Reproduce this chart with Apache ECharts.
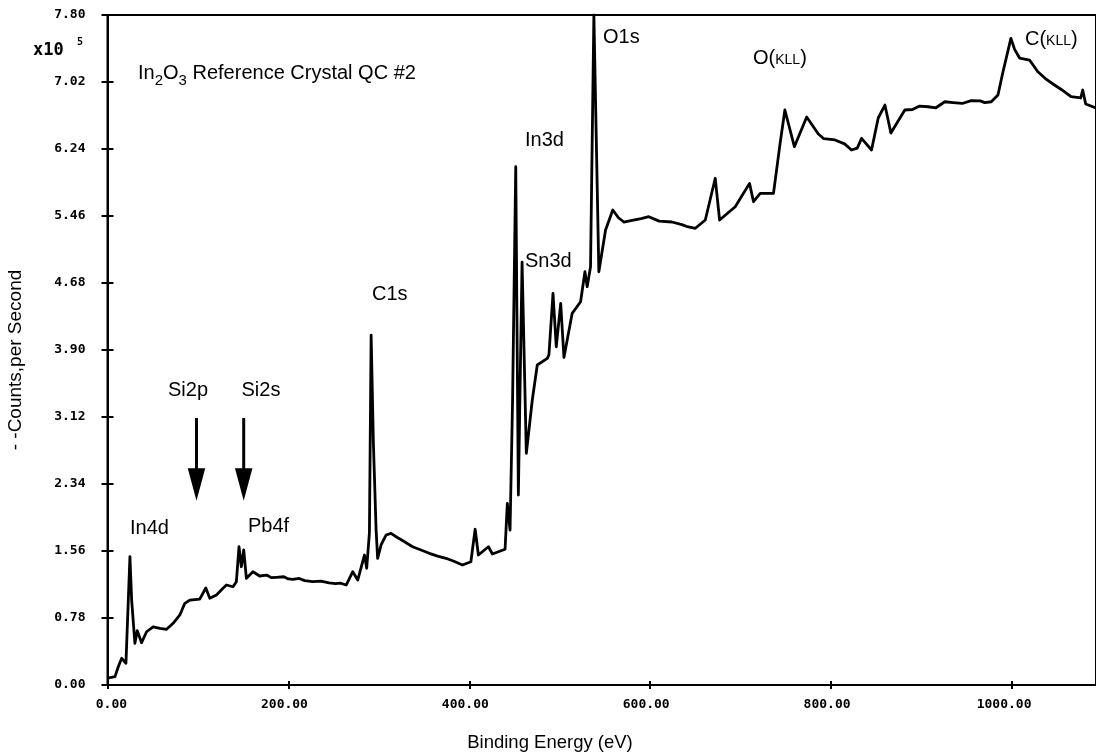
<!DOCTYPE html>
<html>
<head>
<meta charset="utf-8">
<script src="https://cdn.jsdelivr.net/npm/echarts@6/dist/echarts.min.js"></script>
<style>
html,body{margin:0;padding:0;background:#fff}
#chart{width:1096px;height:754px}
</style>
</head>
<body>
<div id="chart"></div>
<script>
// XPS survey spectrum, In2O3 reference crystal (counts in units of 1e5 per second)
const energies = [
  0, 0.9, 8.3, 11.9, 15.7, 17.4, 20.4, 21.8, 24.8, 26.7, 30.3, 32.9, 37.7, 43.2, 50.5, 58, 65.3, 72.6,
  80.0, 85.5, 91, 102.0, 108.7, 113.1, 120.5, 127.7, 131.5, 138.8, 142.5, 145.4, 148.0, 150.6, 153.6,
  160.8, 168.2, 176, 181, 186.7, 195, 200, 205.0, 212, 218, 227.0, 236, 245, 252, 258, 263.9, 271.2,
  276.7, 284.1, 286.6, 289.6, 291.5, 294.0, 297.0, 298.7, 302.5, 308, 313.5, 320, 328, 337.3, 346,
  355.8, 365, 374.2, 383, 392.5, 401.8, 406.5, 410.1, 421.2, 425.6, 439.6, 442.1,
  445.1, 447.9, 451.4, 454.3, 458.4, 463.1, 469.7, 475.2, 486.3, 488.1, 492.6, 496.2, 501.1, 504.7,
  513.8, 523.1, 527.9, 530.4, 534.1, 537.8, 543.3, 550.7, 558.7, 565, 570.9, 580, 590, 598.5, 610,
  624.2, 635, 640, 650.0, 661.0, 672.0, 676.8, 694.1, 709.9, 714.3, 721.7, 736.4, 743.7, 749.0,
  759.5, 773.1, 786.0, 792, 804.4, 815, 822.7, 829, 833.8, 844.8, 852.2, 859.6, 866.2, 881.6, 890,
  898, 907.3, 916, 925.8, 935, 945, 955.1, 965, 970, 977.2, 984.6, 990.1, 998.9, 1003, 1008.5,
  1019.5, 1028.7, 1037, 1047.1, 1055, 1065.4, 1076.1, 1078.3, 1081.6, 1093
];
const counts = [
  0.08, 0.078, 0.097, 0.213, 0.311, 0.329, 0.253, 0.26, 1.494, 0.989, 0.485, 0.632, 0.492, 0.62, 0.678, 0.66, 0.648, 0.718,
  0.815, 0.951, 0.989, 1.0, 1.129, 1.009, 1.048, 1.126, 1.164, 1.144, 1.203, 1.610, 1.377, 1.572, 1.242,
  1.319, 1.269, 1.28, 1.25, 1.254, 1.26, 1.235, 1.230, 1.24, 1.215, 1.203, 1.21, 1.19, 1.18, 1.185, 1.164, 1.319,
  1.222, 1.513, 1.359, 1.770, 4.074, 2.817, 1.804, 1.475, 1.63, 1.746, 1.766, 1.72, 1.67, 1.610, 1.575,
  1.533, 1.50, 1.475, 1.44, 1.397, 1.435, 1.813, 1.513, 1.610, 1.525, 1.580, 2.115,
  1.804, 3.318, 6.034, 2.212, 4.924, 2.697, 3.318, 3.725, 3.803, 3.842, 4.560, 3.938, 4.443, 3.813,
  4.327, 4.462, 4.811, 4.637, 4.870, 7.80, 4.811, 5.297, 5.530, 5.44, 5.390, 5.41, 5.43, 5.452, 5.40,
  5.390, 5.36, 5.34, 5.317, 5.413, 5.899, 5.413, 5.568, 5.840, 5.626, 5.724, 5.724, 6.306, 6.694,
  6.267, 6.612, 6.414, 6.36, 6.345, 6.30, 6.228, 6.25, 6.364, 6.228, 6.601, 6.752, 6.426, 6.694, 6.70,
  6.74, 6.732, 6.72, 6.790, 6.78, 6.77, 6.804, 6.80, 6.78, 6.790, 6.868, 7.136, 7.528, 7.40, 7.299,
  7.276, 7.140, 7.06, 6.985, 6.93, 6.849, 6.834, 6.927, 6.764, 6.717
];

const xTickLabels = ['0.00', '200.00', '400.00', '600.00', '800.00', '1000.00'];
const yTickLabels = ['0.00', '0.78', '1.56', '2.34', '3.12', '3.90', '4.68', '5.46', '6.24', '7.02', '7.80'];

// Si markers: energy of the arrow and its vertical extent (counts)
const arrowEnergies = [98.4, 150.6];
const arrowFrom = 3.108;
const arrowTo = 2.145;

const X_STEP = 200, Y_STEP = 0.78;
const NB = '\u00a0';

const axisCommon = {
  type: 'value',
  splitLine: { show: false },
  axisLine: { show: true, lineStyle: { color: '#000', width: 2 } },
  axisTick: { show: true, length: 5, lineStyle: { color: '#000', width: 2 } }
};

const option = {
  animation: false,
  backgroundColor: '#fff',
  grid: {
    left: 107.5, top: 15, width: 990.8, height: 670,
    show: true, borderColor: '#000', borderWidth: 2, backgroundColor: 'transparent'
  },
  xAxis: [
    Object.assign({}, axisCommon, {
      min: 0, max: 1093, interval: X_STEP, position: 'bottom',
      axisTick: { show: true, length: 4, lineStyle: { color: '#000', width: 2 } },
      axisLabel: {
        margin: 13, color: '#000', fontFamily: 'DejaVu Sans Mono', fontWeight: 'bold', fontSize: 13,
        showMaxLabel: false,
        formatter: function (v) {
          const i = Math.round(v / X_STEP);
          if (Math.abs(v - i * X_STEP) > 1e-6 || i >= xTickLabels.length) return '';
          const s = xTickLabels[i];
          return NB.repeat(7 - s.length) + s + NB + NB;
        }
      }
    }),
    Object.assign({}, axisCommon, {
      min: 0, max: 1093, interval: X_STEP, position: 'bottom',
      axisLine: { show: false },
      axisTick: { show: true, inside: true, length: 4, lineStyle: { color: '#000', width: 2 } },
      axisLabel: { show: false }
    })
  ],
  yAxis: [
    Object.assign({}, axisCommon, {
      min: 0, max: 7.8, interval: Y_STEP, position: 'left',
      axisTick: { show: true, length: 6, lineStyle: { color: '#000', width: 2 } },
      axisLabel: {
        margin: 22, color: '#000', fontFamily: 'DejaVu Sans Mono', fontWeight: 'bold', fontSize: 13,
        formatter: function (v) {
          const i = Math.round(v / Y_STEP);
          return yTickLabels[i] !== undefined ? yTickLabels[i] : '';
        }
      }
    }),
    Object.assign({}, axisCommon, {
      min: 0, max: 7.8, interval: Y_STEP, position: 'left',
      axisLine: { show: false },
      axisTick: { show: true, inside: true, length: 6, lineStyle: { color: '#000', width: 2 } },
      axisLabel: { show: false }
    })
  ],
  series: [{
    type: 'line',
    xAxisIndex: 0,
    yAxisIndex: 0,
    data: energies.map((e, i) => [e, counts[i]]),
    showSymbol: false,
    symbol: 'none',
    clip: true,
    lineStyle: { color: '#000', width: 2.8, join: 'round' }
  }]
};

const chart = echarts.init(document.getElementById('chart'), null, { renderer: 'canvas' });
chart.setOption(option);

// ---- annotations ----
const measureCtx = document.createElement('canvas').getContext('2d');
function textWidth(t, font) { measureCtx.font = font; return measureCtx.measureText(t).width; }

const labelFonts = {
  m:   { font: '20px "Liberation Sans"', dy: 0 },
  sub: { font: '15px "Liberation Sans"', dy: 8 },
  sc:  { font: '14px "Liberation Sans"', dy: 2 }
};

const annotations = [
  { parts: [['In', 'm'], ['2', 'sub'], ['O', 'm'], ['3', 'sub'], [' Reference Crystal QC #2', 'm']], x: 138, y: 73 },
  { parts: [['O1s', 'm']], x: 603, y: 37 },
  { parts: [['O(', 'm'], ['KLL', 'sc'], [')', 'm']], x: 753, y: 58 },
  { parts: [['C(', 'm'], ['KLL', 'sc'], [')', 'm']], x: 1025, y: 39 },
  { parts: [['In3d', 'm']], x: 525, y: 140 },
  { parts: [['Sn3d', 'm']], x: 525, y: 261 },
  { parts: [['C1s', 'm']], x: 372, y: 294 },
  { parts: [['Si2p', 'm']], x: 168, y: 390 },
  { parts: [['Si2s', 'm']], x: 241.5, y: 390 },
  { parts: [['In4d', 'm']], x: 130, y: 528 },
  { parts: [['Pb4f', 'm']], x: 248, y: 526 }
];

const graphics = [];
annotations.forEach(a => {
  let cx = a.x;
  a.parts.forEach(([t, k]) => {
    const f = labelFonts[k];
    graphics.push({
      type: 'text', x: cx, y: a.y + f.dy, z: 100,
      style: { text: t, font: f.font, fill: '#000', align: 'left', verticalAlign: 'middle' }
    });
    cx += textWidth(t, f.font);
  });
});

// exponent marker beside the value axis
graphics.push({
  type: 'text', x: 33, y: 51, z: 100,
  style: { text: 'x10', font: 'bold 17px "DejaVu Sans Mono"', fill: '#000', align: 'left', verticalAlign: 'middle' }
});
graphics.push({
  type: 'text', x: 77, y: 42, z: 100,
  style: { text: '5', font: 'bold 10px "DejaVu Sans Mono"', fill: '#000', align: 'left', verticalAlign: 'middle' }
});

// axis titles
graphics.push({
  type: 'text', x: 550, y: 743, z: 100,
  style: { text: 'Binding Energy (eV)', font: '18.5px "Liberation Sans"', fill: '#000', align: 'center', verticalAlign: 'middle' }
});
graphics.push({
  type: 'text', x: 16, y: 360, z: 100, rotation: Math.PI / 2,
  style: { text: '- -Counts,per Second', font: '19px "Liberation Sans"', fill: '#000', align: 'center', verticalAlign: 'middle' }
});

// Si arrows, placed in data coordinates
arrowEnergies.forEach(e => {
  const top = chart.convertToPixel({ gridIndex: 0 }, [e, arrowFrom]);
  const tip = chart.convertToPixel({ gridIndex: 0 }, [e, arrowTo]);
  const headH = 32.5, headW = 17.5;
  graphics.push({
    type: 'line', z: 100,
    shape: { x1: top[0], y1: top[1], x2: tip[0], y2: tip[1] - headH + 2 },
    style: { stroke: '#000', lineWidth: 3 }
  });
  graphics.push({
    type: 'polygon', z: 100,
    shape: { points: [[tip[0] - headW / 2, tip[1] - headH], [tip[0] + headW / 2, tip[1] - headH], [tip[0], tip[1]]] },
    style: { fill: '#000' }
  });
});

chart.setOption({ graphic: graphics });
</script>
</body>
</html>
